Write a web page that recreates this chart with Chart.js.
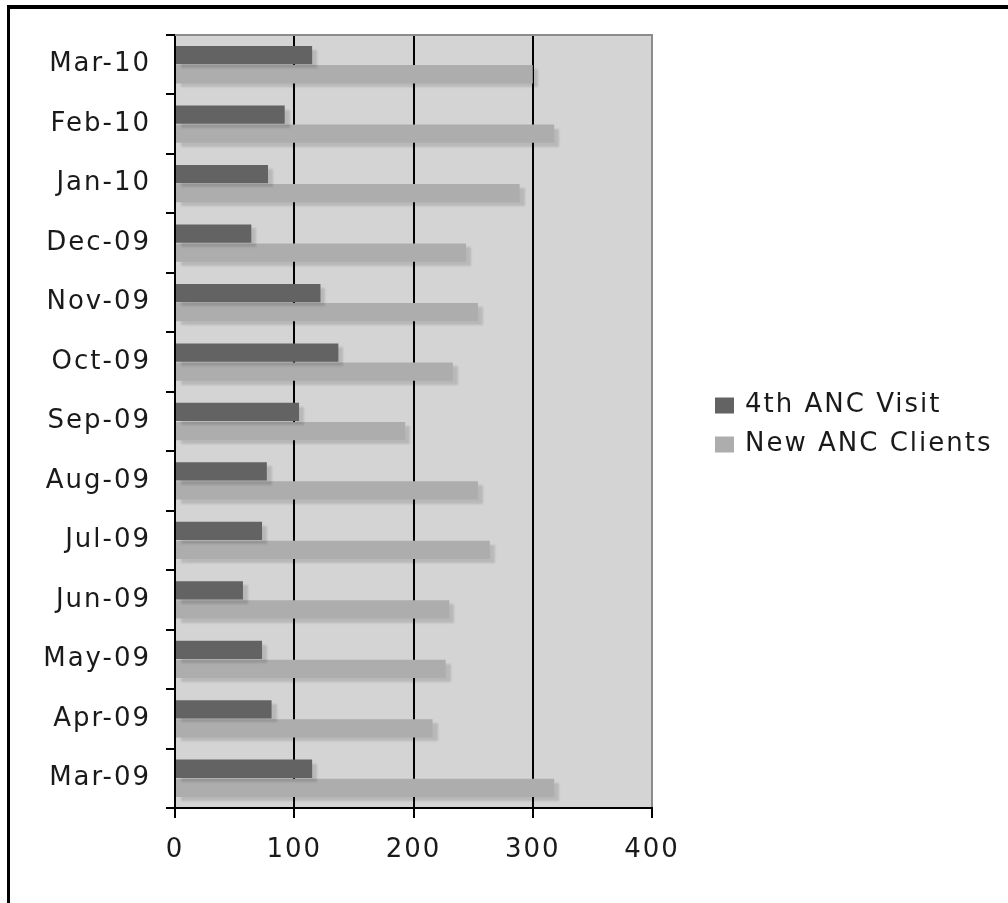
<!DOCTYPE html>
<html>
<head>
<meta charset="utf-8">
<script src="https://cdn.jsdelivr.net/npm/chart.js@4/dist/chart.umd.min.js"></script>
<style>
  html, body { margin: 0; padding: 0; background: #fff; }
  #wrap { width: 1008px; height: 903px; }
</style>
</head>
<body>
<div id="wrap"><canvas id="myChart" width="1008" height="903"></canvas></div>
<script>
// months, oldest first (drawn from the bottom up)
const months = ['Mar-09', 'Apr-09', 'May-09', 'Jun-09', 'Jul-09', 'Aug-09', 'Sep-09', 'Oct-09', 'Nov-09', 'Dec-09', 'Jan-10', 'Feb-10', 'Mar-10'];
const fourthVisit = [115, 81, 73, 57, 73, 77, 104, 137, 122, 64, 78, 92, 115];
const newClients = [318, 216, 227, 230, 264, 254, 193, 233, 254, 244, 289, 318, 300];
const seriesNames = ['4th ANC Visit', 'New ANC Clients'];
const xTicks = [0, 100, 200, 300, 400];

const FONT = '"DejaVu Sans", Verdana, sans-serif';

// white page, the black frame and the grey plot background
const backdrop = {
    id: 'backdrop',
    beforeDraw(chart) {
        const ctx = chart.ctx;
        const a = chart.chartArea;
        ctx.save();
        ctx.fillStyle = '#fff';
        ctx.fillRect(0, 0, chart.width, chart.height);
        ctx.fillStyle = '#000';
        ctx.fillRect(7, 5, chart.width - 7, 4);
        ctx.fillRect(7, 5, 3, chart.height - 5);
        ctx.fillStyle = '#d4d4d4';
        ctx.fillRect(a.left, a.top, a.right - a.left, a.bottom - a.top);
        ctx.restore();
        // the old chart text is set a bit loose
        ctx.letterSpacing = '2px';
    },
    afterDraw(chart) {
        // grey line on top of the plot
        const ctx = chart.ctx;
        const a = chart.chartArea;
        ctx.save();
        ctx.strokeStyle = '#8c8c8c';
        ctx.lineWidth = 2;
        ctx.beginPath();
        ctx.moveTo(a.left, a.top);
        ctx.lineTo(a.right + 1, a.top);
        ctx.stroke();
        ctx.restore();
    }
};

// soft drop shadow under the bars
const barShadow = {
    id: 'barShadow',
    beforeDatasetsDraw(chart) {
        const ctx = chart.ctx;
        ctx.save();
        ctx.shadowColor = 'rgba(0,0,0,0.13)';
        ctx.shadowOffsetX = 5;
        ctx.shadowOffsetY = 4;
        ctx.shadowBlur = 2;
    },
    afterDatasetsDraw(chart) {
        chart.ctx.restore();
    }
};

// legend on the right, read from the datasets
const sideLegend = {
    id: 'sideLegend',
    afterDraw(chart) {
        const ctx = chart.ctx;
        const a = chart.chartArea;
        const x = a.right + 63;
        const yMid = (a.top + a.bottom) / 2 - 16;
        ctx.save();
        ctx.font = '26px ' + FONT;
        ctx.letterSpacing = '2px';
        ctx.textBaseline = 'middle';
        chart.data.datasets.forEach((ds, i) => {
            const y = yMid + i * 39;
            ctx.fillStyle = ds.backgroundColor;
            ctx.fillRect(x, y - 8, 19, 16);
            ctx.fillStyle = '#1a1a1a';
            ctx.fillText(ds.label, x + 30, y);
        });
        ctx.restore();
    }
};

const ctx = document.getElementById('myChart').getContext('2d');

const myChart = new Chart(ctx, {
    type: 'bar',
    data: {
        labels: months,
        datasets: [{
            label: seriesNames[0],
            data: fourthVisit,
            backgroundColor: '#636363',
            categoryPercentage: 0.64,
            barPercentage: 0.96
        }, {
            label: seriesNames[1],
            data: newClients,
            backgroundColor: '#adadad',
            categoryPercentage: 0.64,
            barPercentage: 0.96
        }]
    },
    options: {
        indexAxis: 'y',
        responsive: false,
        animation: false,
        devicePixelRatio: 1,
        layout: {
            padding: { left: 0, top: 35, right: 356, bottom: 0 }
        },
        plugins: {
            legend: { display: false },
            tooltip: { enabled: false }
        },
        scales: {
            y: {
                reverse: true,
                afterFit(scale) { scale.width = 175; },
                border: { color: '#000', width: 2 },
                grid: {
                    drawOnChartArea: false,
                    drawTicks: true,
                    tickLength: 9,
                    color: '#000',
                    lineWidth: 2
                },
                ticks: {
                    color: '#1a1a1a',
                    padding: 15,
                    font: { family: FONT, size: 26 }
                }
            },
            x: {
                min: 0,
                max: 400,
                afterBuildTicks(scale) {
                    scale.ticks = xTicks.map(v => ({ value: v }));
                },
                afterFit(scale) { scale.height = 95; },
                border: { color: '#000', width: 2 },
                grid: {
                    color: (c) => (c.tick && c.tick.value === 400 ? '#8c8c8c' : '#000'),
                    lineWidth: 2,
                    tickLength: 10,
                    tickColor: '#000'
                },
                ticks: {
                    color: '#1a1a1a',
                    padding: 17,
                    font: { family: FONT, size: 26 }
                }
            }
        }
    },
    plugins: [backdrop, barShadow, sideLegend]
});
</script>
</body>
</html>
